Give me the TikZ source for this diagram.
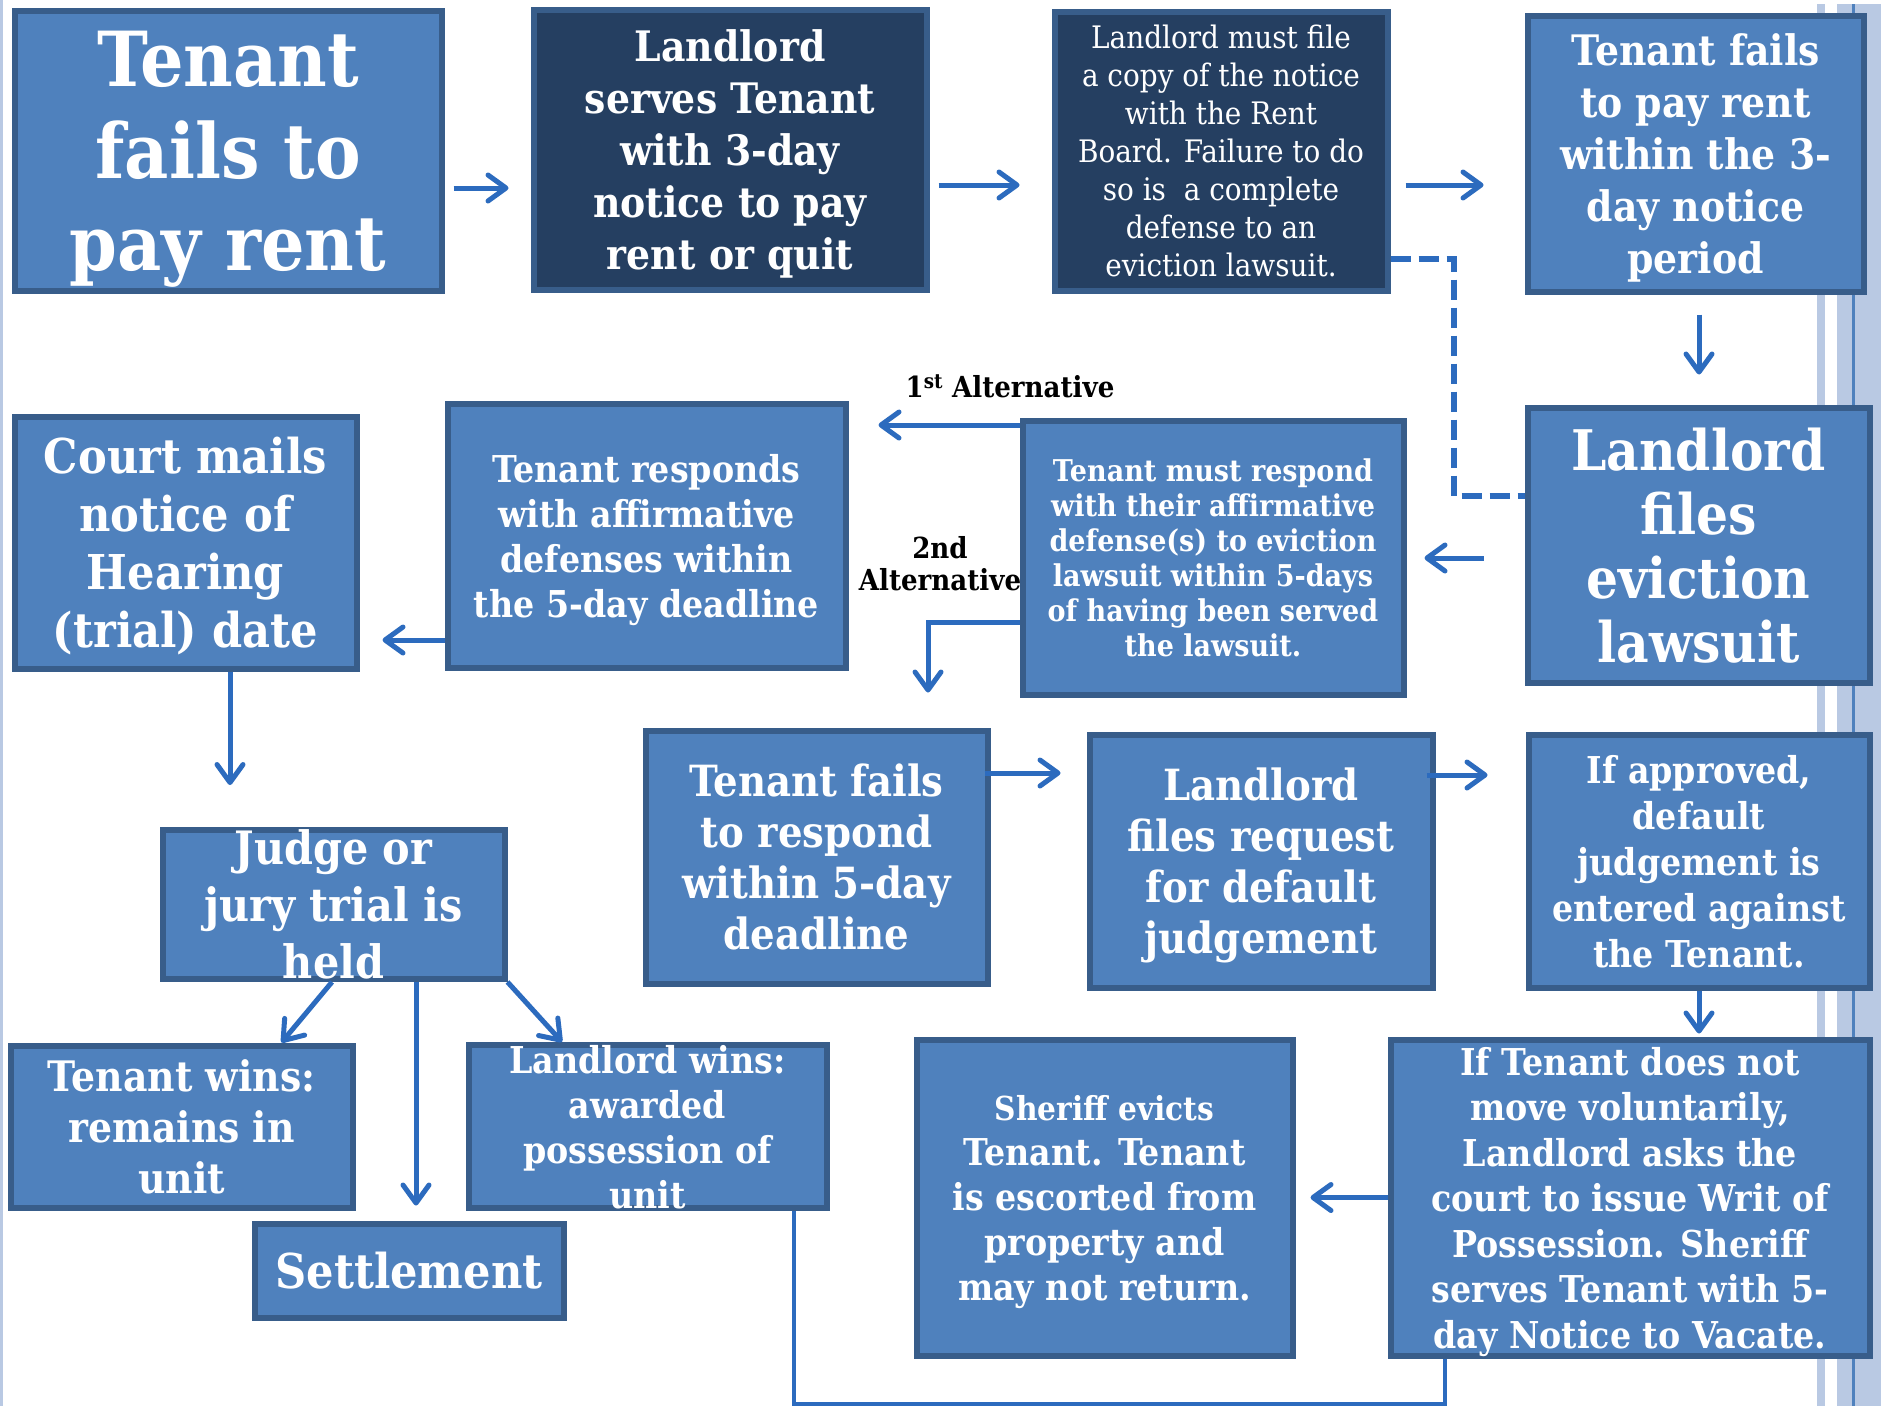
\documentclass[tikz,border=0pt]{standalone}
\usepackage{fontspec}
\setmainfont{DejaVu Serif}[FakeStretch=0.9]
\usetikzlibrary{arrows.meta}
\definecolor{blu}{HTML}{4F81BD}
\definecolor{bord}{HTML}{385D8A}
\definecolor{dark}{HTML}{253F61}
\definecolor{arrc}{HTML}{2C6BBE}
\definecolor{stripe}{HTML}{B9C9E3}
\newcommand\fsz[2]{\fontsize{#1}{#2}\selectfont}
\begin{document}
\begin{tikzpicture}[x=1pt,y=-1pt,
  box/.style={draw=bord, fill=blu, line width=6pt, text=white, align=center, inner sep=0pt, text depth=0pt},
  dbox/.style={box, fill=dark},
  arr/.style={draw=arrc, line width=5pt, -{Straight Barb[length=18pt,width=26pt,line cap=round,line join=round]}},
  conn/.style={draw=arrc, line width=4.5pt},
  lbl/.style={font=\bfseries\fsz{29}{32}, align=center, inner sep=0pt, text=black}
]
\useasboundingbox (0,0) rectangle (1881,1406);
\fill[white] (0,0) rectangle (1881,1406);
% decorative edges
\fill[stripe] (0,0) rectangle (3,1406);
\fill[stripe] (1817,4) rectangle (1825,1406);
\fill[stripe] (1837,4) rectangle (1881,1406);
\fill[blu] (1852,4) rectangle (1855,1406);

% boxes
\node[box, minimum width=427pt, minimum height=280pt, font=\bfseries\fsz{76}{92}] (b1) at (228,150.5) {Tenant\\fails to\\pay rent};
\node[dbox, minimum width=393pt, minimum height=280pt, font=\bfseries\fsz{42}{52}] (b2) at (730,149.5) {Landlord\\serves Tenant\\with 3-day\\notice to pay\\rent or quit};
\node[dbox, minimum width=333pt, minimum height=279pt, font=\fsz{31}{38}] (b3) at (1221,151) {Landlord must file\\a copy of the notice\\with the Rent\\Board. Failure to do\\so is\ \ a complete\\defense to an\\eviction lawsuit.};
\node[box, minimum width=336pt, minimum height=276pt, font=\bfseries\fsz{42}{52}] (b4) at (1695.5,153.5) {Tenant fails\\to pay rent\\within the 3-\\day notice\\period};

\node[box, minimum width=342pt, minimum height=252pt, font=\bfseries\fsz{48}{58}] (court) at (185.5,542.5) {Court mails\\notice of\\Hearing\\(trial) date};
\node[box, minimum width=398pt, minimum height=264pt, font=\bfseries\fsz{37}{45}] (responds) at (646.5,535.5) {Tenant responds\\with affirmative\\defenses within\\the 5-day deadline};
\node[box, minimum width=381pt, minimum height=274pt, font=\bfseries\fsz{30}{35}] (must) at (1213,557.5) {Tenant must respond\\with their affirmative\\defense(s) to eviction\\lawsuit within 5-days\\of having been served\\the lawsuit.};
\node[box, minimum width=342pt, minimum height=275pt, font=\bfseries\fsz{56}{64}] (lfiles) at (1698.5,545) {Landlord\\files\\eviction\\lawsuit};

\node[box, minimum width=342pt, minimum height=253pt, font=\bfseries\fsz{43}{51}] (failsresp) at (816.5,857) {Tenant fails\\to respond\\within 5-day\\deadline};
\node[box, minimum width=343pt, minimum height=253pt, font=\bfseries\fsz{43}{51}] (request) at (1261,861) {Landlord\\files request\\for default\\judgement};
\node[box, minimum width=341pt, minimum height=253pt, font=\bfseries\fsz{37}{46}] (approved) at (1699,861) {If approved,\\default\\judgement is\\entered against\\the Tenant.};

\node[box, minimum width=342pt, minimum height=148pt, font=\bfseries\fsz{46}{57}] (judge) at (333.5,904.5) {Judge or\\jury trial is\\held};
\node[box, minimum width=342pt, minimum height=162pt, font=\bfseries\fsz{42}{51}] (twins) at (181.5,1126.5) {Tenant wins:\\remains in\\unit};
\node[box, minimum width=358pt, minimum height=162pt, font=\bfseries\fsz{37}{45}] (lwins) at (647.5,1126.5) {Landlord wins:\\awarded\\possession of\\unit};
\node[box, minimum width=309pt, minimum height=94pt, font=\bfseries\fsz{48}{58}] (settle) at (409,1270.5) {Settlement};
\node[box, minimum width=376pt, minimum height=316pt, font=\bfseries\fsz{37}{45}] (sheriff) at (1104.5,1197.5) {{\fsz{33}{42}Sheriff evicts}\\Tenant. Tenant\\is escorted from\\property and\\may not return.};
\node[box, minimum width=479pt, minimum height=316pt, font=\bfseries\fsz{37}{45.5}] (writ) at (1630,1197.5) {If Tenant does not\\move voluntarily,\\Landlord asks the\\court to issue Writ of\\Possession. Sheriff\\serves Tenant with 5-\\day Notice to Vacate.};

% labels
\node[lbl] (alt1) at (1010,386) {1\textsuperscript{st} Alternative};
\node[lbl] (alt2) at (940,564) {2nd\\Alternative};

% connectors
\draw[arr, shorten <=9pt, shorten >=22pt] (b1.east |- 0,188) -- (b2.west |- 0,188);
\draw[arr, shorten <=9pt, shorten >=32pt] (b2.east |- 0,185) -- (b3.west |- 0,185);
\draw[arr, shorten <=15pt, shorten >=41pt] (b3.east |- 0,185) -- (b4.west |- 0,185);
\draw[arr, shorten <=20pt, shorten >=30pt] (1699,0 |- b4.south) -- (1699,0 |- lfiles.north);
\draw[arr, shorten <=41pt, shorten >=18pt] (lfiles.west |- 0,558) -- (must.east |- 0,558);
\draw[draw=arrc, line width=5.5pt, dash pattern=on 20pt off 8pt] (b3.east |- 0,259) -- (1454,259) -- (1454,496) -- (lfiles.west |- 0,496);
\draw[arr, shorten >=30pt] (must.west |- 0,425) -- (responds.east |- 0,425);
\draw[arr, shorten >=35pt] (must.west |- 0,622) -- (928,622) -- (928,0 |- failsresp.north);
\draw[arr, shorten >=23pt] (responds.west |- 0,640) -- (court.east |- 0,640);
\draw[arr, shorten >=42pt] (230,0 |- court.south) -- (230,0 |- judge.north);
\draw[arr] ([xshift=-1.5pt]judge.south) -- ([xshift=100pt]twins.north);
\draw[arr, shorten >=15pt] ([xshift=7pt]settle.north |- judge.south) -- ([xshift=7pt]settle.north);
\draw[arr] (judge.south east) -- ([xshift=-85.5pt]lwins.north);
\draw[arr, shorten <=-6pt, shorten >=26pt] (failsresp.east |- 0,773) -- (request.west |- 0,773);
\draw[arr, shorten <=-9pt, shorten >=38pt] (request.east |- 0,775) -- (approved.west |- 0,775);
\draw[arr, shorten >=3pt] (approved.south) -- (approved.south |- writ.north);
\draw[arr, shorten >=15pt] (writ.west) -- (sheriff.east);
\draw[conn] ([xshift=146.5pt]lwins.south) -- ++(0,193) -| ([xshift=-185pt]writ.south);
\end{tikzpicture}
\end{document}
